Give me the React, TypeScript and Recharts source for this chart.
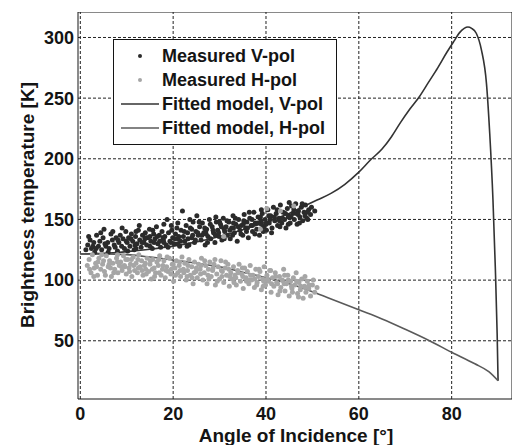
import {
  ComposedChart,
  Legend,
  Line,
  Scatter,
  XAxis,
  YAxis,
} from "recharts";

const FONT = "'Liberation Sans', Arial, Helvetica, sans-serif";
const INK = "#141414";
const DARK = "#2b2b2b";
const LIGHT = "#a6a6a6";

const xDomain: [number, number] = [-0.5, 93];
const yDomain: [number, number] = [2, 321];
const xTicks = [0, 20, 40, 60, 80];
const yTicks = [50, 100, 150, 200, 250, 300];

// measured V-pol, [angle, Tb]
const vMeasured: [number, number][] = [
  [1.2, 125], [1.6, 129], [2.1, 133], [2.4, 126], [2.9, 131], [3.1, 123], [3.5, 137], [3.9, 128], [4.2, 132], [4.6, 125],
  [4.9, 135], [5.1, 142], [5.5, 128], [5.9, 131], [6.2, 126], [6.6, 138], [6.9, 133], [7.3, 129], [7.7, 135], [8.0, 124],
  [8.3, 131], [8.6, 137], [8.9, 128], [9.2, 134], [9.5, 126], [9.8, 140], [10.1, 131], [10.4, 135], [10.7, 128], [11.0, 138],
  [11.3, 132], [11.6, 125], [11.9, 136], [12.2, 130], [12.5, 141], [12.8, 133], [13.1, 127], [13.4, 137], [13.7, 131], [14.0, 139],
  [14.3, 129], [14.6, 135], [14.9, 142], [15.2, 132], [15.5, 126], [15.8, 138], [16.1, 134], [16.4, 144], [16.7, 130], [17.0, 137],
  [17.3, 127], [17.6, 140], [17.9, 133], [18.2, 136], [18.5, 129], [18.7, 150], [19.0, 139], [19.3, 132], [19.6, 145], [19.9, 135],
  [20.2, 130], [20.5, 138], [20.8, 143], [21.1, 134], [21.4, 128], [21.7, 141], [22.0, 157], [22.2, 136], [22.5, 132], [22.8, 145],
  [23.1, 139], [23.4, 129], [23.7, 143], [24.0, 135], [24.3, 148], [24.6, 131], [24.9, 140], [25.1, 153], [25.4, 137], [25.7, 144],
  [26.0, 133], [26.3, 147], [26.6, 139], [26.9, 129], [27.2, 142], [27.5, 136], [27.8, 150], [28.1, 134], [28.4, 144], [28.7, 139],
  [29.0, 131], [29.3, 148], [29.6, 141], [29.9, 136], [30.2, 146], [30.5, 133], [30.8, 151], [31.1, 140], [31.4, 144], [31.7, 137],
  [32.0, 148], [32.3, 134], [32.6, 143], [32.9, 153], [33.2, 139], [33.5, 146], [33.8, 132], [34.1, 150], [34.4, 141], [34.7, 145],
  [35.0, 137], [35.3, 154], [35.6, 143], [35.9, 148], [36.2, 135], [36.5, 151], [36.8, 145], [37.1, 140], [37.4, 156], [37.7, 147],
  [38.0, 142], [38.3, 152], [38.6, 137], [38.9, 149], [39.2, 155], [39.5, 144], [39.8, 150], [40.1, 141], [40.4, 158], [40.7, 147],
  [41.0, 153], [41.3, 143], [41.6, 160], [41.9, 149], [42.2, 155], [42.5, 145], [42.8, 151], [43.1, 162], [43.4, 147], [43.7, 156],
  [44.0, 150], [44.3, 143], [44.6, 159], [44.9, 153], [45.2, 147], [45.5, 161], [45.8, 155], [46.1, 150], [46.4, 163], [46.7, 146],
  [47.0, 157], [47.3, 152], [47.6, 160], [47.9, 149], [48.2, 156], [48.5, 162], [48.8, 151], [49.2, 158], [49.6, 154], [50.5, 157],
  [2.7, 128], [5.3, 130], [7.5, 127], [9.9, 132], [11.8, 129], [13.9, 134], [15.9, 131], [17.8, 135], [19.5, 131], [21.2, 136],
  [23.2, 134], [25.3, 139], [27.1, 138], [29.1, 137], [31.0, 142], [33.0, 143], [35.1, 146], [37.0, 145], [39.0, 146], [40.9, 150],
  [42.9, 149], [44.8, 152], [46.9, 154], [48.9, 156],
  [1.8, 136], [3.4, 126], [4.4, 139], [6.0, 123], [7.0, 140], [8.1, 133], [9.0, 143], [10.2, 124], [10.9, 134], [12.0, 126],
  [12.7, 145], [13.3, 131], [14.2, 135], [15.0, 128], [15.6, 141], [16.6, 136], [17.1, 132], [18.0, 146], [18.9, 127], [19.7, 141],
  [20.4, 134], [21.0, 147], [21.6, 132], [22.4, 140], [23.0, 128], [23.6, 150], [24.2, 137], [24.8, 133], [25.6, 148], [26.2, 137],
  [26.8, 143], [27.4, 131], [28.0, 146], [28.6, 141], [29.2, 152], [29.8, 139], [30.4, 144], [31.0, 134], [31.6, 149], [32.2, 141],
  [32.8, 137], [33.4, 151], [34.0, 144], [34.6, 138], [35.2, 149], [35.8, 140], [36.4, 156], [37.0, 150], [37.6, 138], [38.2, 147],
  [38.8, 152], [39.4, 140], [40.0, 146], [40.6, 153], [41.2, 139], [41.8, 152], [42.4, 158], [43.0, 144], [43.6, 151], [44.2, 155],
  [44.8, 146], [45.4, 152], [46.0, 158], [46.6, 155], [47.2, 147], [47.8, 163], [48.4, 153], [49.0, 150], [49.8, 160], [45.0, 164],
  [39.0, 158], [36.0, 143], [33.0, 147], [30.0, 148], [27.0, 140], [24.0, 142], [21.0, 130], [18.0, 131], [15.0, 136], [12.0, 140],
];

// measured H-pol, [angle, Tb]
const hMeasured: [number, number][] = [
  [1.5, 112], [1.9, 117], [2.3, 106], [2.6, 121], [3.0, 110], [3.3, 114], [3.7, 104], [4.0, 118], [4.4, 109], [4.8, 113],
  [5.2, 107], [5.6, 120], [6.0, 111], [6.3, 116], [6.7, 103], [7.0, 114], [7.4, 109], [7.8, 118], [8.1, 106], [8.4, 112],
  [8.7, 115], [9.0, 108], [9.3, 120], [9.6, 111], [9.9, 105], [10.2, 117], [10.5, 110], [10.8, 113], [11.1, 103], [11.4, 119],
  [11.7, 108], [12.0, 114], [12.3, 106], [12.6, 121], [12.9, 111], [13.2, 116], [13.5, 104], [13.8, 112], [14.1, 109], [14.4, 118],
  [14.7, 107], [15.0, 113], [15.3, 101], [15.6, 117], [15.9, 110], [16.2, 106], [16.5, 115], [16.8, 112], [17.1, 120], [17.4, 104],
  [17.7, 109], [18.0, 116], [18.3, 102], [18.6, 111], [18.9, 107], [19.2, 118], [19.5, 105], [19.8, 113], [20.1, 99], [20.4, 110],
  [20.7, 116], [21.0, 106], [21.3, 112], [21.6, 103], [21.9, 119], [22.2, 109], [22.5, 114], [22.8, 100], [23.1, 108], [23.4, 117],
  [23.7, 104], [24.0, 111], [24.3, 97], [24.6, 115], [24.9, 107], [25.2, 102], [25.5, 113], [25.8, 109], [26.1, 118], [26.4, 100],
  [26.7, 106], [27.0, 112], [27.3, 97], [27.6, 109], [27.9, 115], [28.2, 103], [28.5, 108], [28.8, 113], [29.1, 96], [29.4, 105],
  [29.7, 111], [30.0, 101], [30.3, 116], [30.6, 107], [30.9, 98], [31.2, 110], [31.5, 104], [31.8, 113], [32.1, 95], [32.4, 106],
  [32.7, 101], [33.0, 111], [33.3, 104], [33.6, 96], [33.9, 108], [34.2, 113], [34.5, 99], [34.8, 105], [35.1, 93], [35.4, 110],
  [35.7, 102], [36.0, 107], [36.3, 97], [36.6, 112], [36.9, 100], [37.2, 104], [37.5, 94], [37.8, 109], [38.1, 98], [38.4, 103],
  [38.7, 107], [39.0, 92], [39.3, 101], [39.6, 111], [39.9, 96], [40.2, 104], [40.5, 99], [40.8, 108], [41.1, 90], [41.4, 102],
  [41.7, 95], [42.0, 106], [42.3, 98], [42.6, 88], [42.9, 103], [43.2, 94], [43.5, 100], [43.8, 109], [44.1, 91], [44.4, 97],
  [44.7, 104], [45.0, 87], [45.3, 99], [45.6, 93], [45.9, 102], [46.2, 96], [46.5, 106], [46.8, 89], [47.1, 98], [47.4, 92],
  [47.7, 101], [48.0, 85], [48.3, 95], [48.6, 90], [48.9, 99], [49.2, 93], [49.6, 87], [50.0, 96], [50.5, 90], [51.0, 94],
  [3.5, 111], [6.5, 110], [9.5, 112], [12.5, 110], [15.5, 109], [18.5, 108], [21.5, 108], [24.5, 106], [27.5, 104], [30.5, 103],
  [33.5, 102], [36.5, 100], [39.5, 99], [42.5, 97], [45.5, 95], [48.5, 94],
  [2.0, 109], [2.9, 103], [3.8, 115], [4.6, 121], [5.4, 104], [6.2, 113], [7.2, 106], [8.0, 121], [8.9, 111], [9.8, 117],
  [10.6, 107], [11.5, 112], [12.4, 117], [13.3, 108], [14.2, 105], [15.1, 116], [16.0, 103], [16.9, 117], [17.8, 112], [18.7, 119],
  [19.6, 109], [20.5, 104], [21.4, 115], [22.3, 106], [23.2, 112], [24.1, 102], [25.0, 110], [25.9, 105], [26.8, 116], [27.7, 101],
  [28.6, 110], [29.5, 99], [30.4, 108], [31.3, 115], [32.2, 103], [33.1, 98], [34.0, 106], [34.9, 110], [35.8, 99], [36.7, 104],
  [37.6, 101], [38.5, 109], [39.4, 95], [40.3, 101], [41.2, 97], [42.1, 103], [43.0, 91], [43.9, 97], [44.8, 100], [45.7, 90],
  [46.6, 99], [47.5, 95], [48.4, 103], [49.3, 96], [50.2, 100], [47.0, 86], [44.0, 104], [41.0, 108], [38.0, 96], [35.0, 103],
  [32.0, 109], [29.0, 117], [26.0, 112], [23.0, 103], [20.0, 113], [17.0, 106], [14.0, 114], [11.0, 117], [8.0, 115], [5.0, 116],
  [30.9, 136], [38.8, 142], [40.2, 159], [43.1, 157], [46.0, 161],
];

// fitted model curves
const vFitAngle = [0, 5, 10, 15, 20, 25, 30, 35, 40, 45, 48, 51, 54, 57, 60, 62.5, 65, 67, 69, 71, 73, 75, 77, 79, 80.5, 81.7, 82.7, 83.5, 84.3, 85.3, 86.4, 87.5, 88.2, 88.9, 89.4, 89.8, 90];
const vFitTb = [121.5, 122, 123.5, 125.5, 128, 131.5, 136, 141.5, 148, 155, 160.5, 166, 171.5, 179, 189, 199, 208, 218, 230, 241, 251, 263, 275, 288, 297, 304, 307.5, 308.6, 307.5, 303.5, 290, 262, 221, 166, 111, 56, 17];
const hFitAngle = [0, 5, 10, 15, 20, 25, 30, 35, 40, 45, 50, 55, 60, 65, 70, 75, 80, 85, 88, 90];
const hFitTb = [121.5, 121.5, 121, 119, 116.5, 114, 111, 106.5, 102, 97, 90.5, 83, 75.5, 68, 59.5, 50.5, 40.5, 31, 24.5, 17];

const toPts = (pairs: [number, number][]) => pairs.map(([x, y]) => ({ x, y }));
const zipPts = (xs: number[], ys: number[]) => xs.map((x, i) => ({ x, y: ys[i] }));

// grid and frame segments, in data units, drawn through the chart's own scales
const vSeg = (x: number) => [{ x, y: yDomain[0] }, { x, y: yDomain[1] }];
const hSeg = (y: number) => [{ x: xDomain[0], y }, { x: xDomain[1], y }];

const dot = (fill: string) => (props: any) =>
  <circle cx={props.cx} cy={props.cy} r={2.5} fill={fill} />;

const legendRows = [
  { name: "Measured V-pol", kind: "dot", color: DARK },
  { name: "Measured H-pol", kind: "dot", color: LIGHT },
  { name: "Fitted model, V-pol", kind: "line", color: "#333" },
  { name: "Fitted model, H-pol", kind: "line", color: "#5a5a5a" },
];

function LegendBox() {
  return (
    <div
      style={{
        width: 224,
        height: 106,
        border: `1px solid ${INK}`,
        background: "#fff",
        boxSizing: "border-box",
        paddingTop: 4,
        fontFamily: FONT,
        fontWeight: "bold",
        fontSize: 18,
        color: INK,
      }}
    >
      {legendRows.map((r) => (
        <div key={r.name} style={{ display: "flex", alignItems: "center", height: 24 }}>
          <svg width={48} height={24} style={{ flex: "none" }}>
            {r.kind === "dot" ? (
              <circle cx={26} cy={12} r={2} fill={r.color} />
            ) : (
              <line x1={7} x2={45} y1={12} y2={12} stroke={r.color} strokeWidth={1.5} />
            )}
          </svg>
          <span style={{ whiteSpace: "nowrap" }}>{r.name}</span>
        </div>
      ))}
    </div>
  );
}

export default function App() {
  const tickStyle = { fontFamily: FONT, fontWeight: "bold", fontSize: 18, fill: INK };
  return (
    <div style={{ position: "absolute", left: 0, top: 0, background: "#fff" }}>
      <ComposedChart width={513} height={445} margin={{ top: 12, right: 1, bottom: 0, left: 0 }}>
        <XAxis
          type="number"
          dataKey="x"
          domain={xDomain}
          ticks={xTicks}
          allowDataOverflow
          height={46}
          tickLine={false}
          tickSize={6}
          tickMargin={2}
          stroke={INK}
          tick={tickStyle}
          label={{
            content: () => (
              <text x={296} y={442} textAnchor="middle" fontFamily={FONT} fontWeight="bold" fontSize={19} fill={INK}>
                Angle of Incidence [°]
              </text>
            ),
          }}
        />
        <YAxis
          type="number"
          dataKey="y"
          domain={yDomain}
          ticks={yTicks}
          allowDataOverflow
          width={78}
          tickLine={false}
          tickSize={4}
          tickMargin={0}
          stroke={INK}
          tick={tickStyle}
          label={{
            content: () => (
              <text
                x={27}
                y={205}
                transform="rotate(-90 27 205)"
                textAnchor="middle"
                dominantBaseline="central"
                fontFamily={FONT}
                fontWeight="bold"
                fontSize={19}
                fill={INK}
              >
                Brightness temperature [K]
              </text>
            ),
          }}
        />
        {xTicks.map((t) => (
          <Line key={`gx${t}`} data={vSeg(t)} dataKey="y" type="linear" stroke="#222" strokeWidth={1}
            strokeDasharray="3 2" dot={false} activeDot={false} isAnimationActive={false} />
        ))}
        {yTicks.map((t) => (
          <Line key={`gy${t}`} data={hSeg(t)} dataKey="y" type="linear" stroke="#222" strokeWidth={1}
            strokeDasharray="3 2" dot={false} activeDot={false} isAnimationActive={false} />
        ))}
        <Line data={vSeg(xDomain[1])} dataKey="y" type="linear" stroke={INK} strokeWidth={1}
          dot={false} activeDot={false} isAnimationActive={false} />
        <Line data={hSeg(yDomain[1])} dataKey="y" type="linear" stroke={INK} strokeWidth={1}
          dot={false} activeDot={false} isAnimationActive={false} />
        <Scatter data={toPts(vMeasured)} dataKey="y" shape={dot(DARK)} isAnimationActive={false} />
        <Scatter data={toPts(hMeasured)} dataKey="y" shape={dot(LIGHT)} isAnimationActive={false} />
        <Line data={zipPts(vFitAngle, vFitTb)} dataKey="y" type="monotone" stroke="#333" strokeWidth={1.6} dot={false} isAnimationActive={false} />
        <Line data={zipPts(hFitAngle, hFitTb)} dataKey="y" type="monotone" stroke="#5a5a5a" strokeWidth={1.6} dot={false} isAnimationActive={false} />
        <Legend
          layout="horizontal"
          verticalAlign="middle"
          align="center"
          content={() => <LegendBox />}
          wrapperStyle={{ left: 113, top: 39, width: 224, height: 106 }}
        />
      </ComposedChart>
    </div>
  );
}
